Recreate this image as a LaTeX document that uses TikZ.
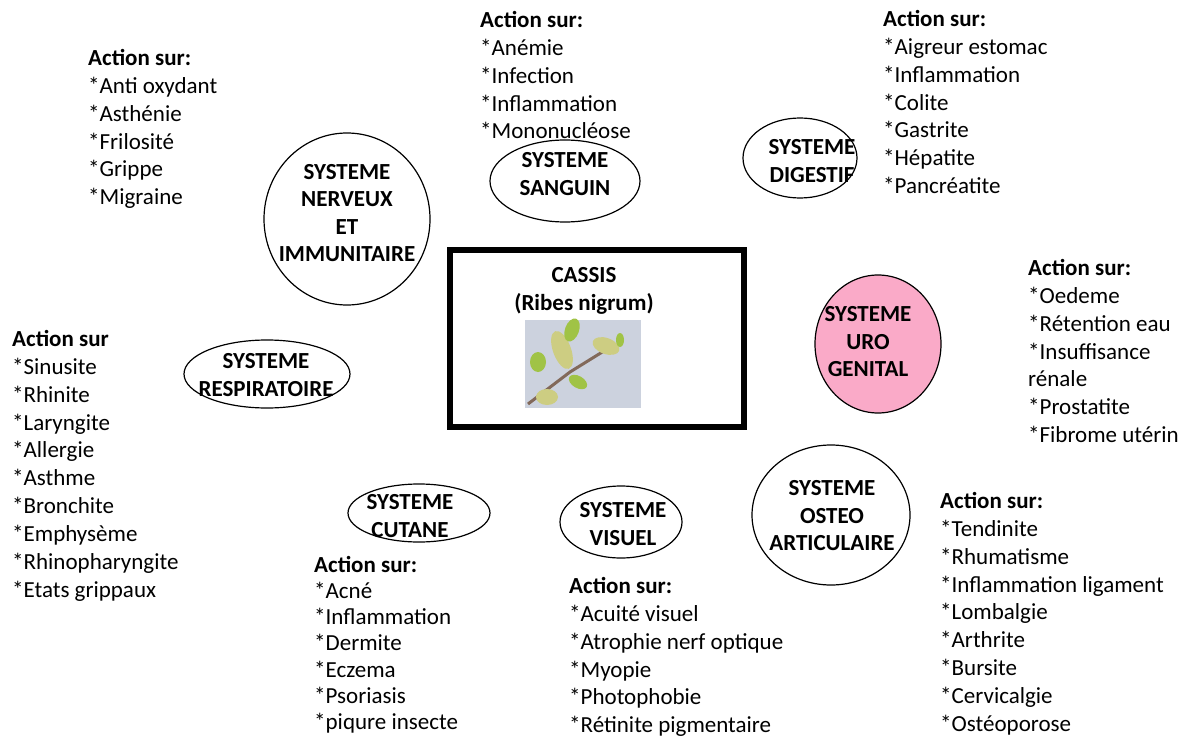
\documentclass[tikz,border=0pt]{standalone}
\usepackage{fontspec}
\setmainfont{Carlito}
\usetikzlibrary{shapes.geometric}
\definecolor{rose}{RGB}{250,170,200}
\definecolor{ciel}{RGB}{204,210,222}
\definecolor{bois}{RGB}{130,105,90}
\definecolor{bourgeon}{RGB}{205,205,130}
\definecolor{feuille}{RGB}{160,195,70}
\tikzset{systeme/.style={font=\bfseries\fontsize{23}{27.5}\selectfont,align=center,inner sep=0pt},
actions/.style={anchor=north west,align=left,font=\fontsize{23}{27.9}\selectfont,inner sep=0pt},
bulle/.style={line width=1.2pt}}

\begin{document}
\begin{tikzpicture}[x=1pt,y=-1pt]
\useasboundingbox (0,0) rectangle (1185,738);
\draw[line width=6pt] (450,250) rectangle (744,427);
\node[font=\bfseries\fontsize{23}{27.8}\selectfont,align=center,inner sep=0pt] (cassis) at (584,291) {CASSIS\\(Ribes nigrum)};
\fill[ciel] (525,320) rectangle (641,408);
\draw[bois,line width=3pt] (528,404) -- (570,372) -- (612,346);
\fill[bourgeon] (606,346) ellipse [x radius=14pt,y radius=8pt,rotate=-20];
\fill[feuille] (620,340) ellipse [x radius=4pt,y radius=7pt];
\fill[bourgeon] (562,350) ellipse [x radius=9pt,y radius=20pt,rotate=20];
\fill[feuille] (572,330) ellipse [x radius=7pt,y radius=12pt,rotate=-20];
\fill[bourgeon] (547,397) ellipse [x radius=11pt,y radius=8pt];
\fill[feuille] (578,382) ellipse [x radius=10pt,y radius=6pt,rotate=-30];
\fill[feuille] (538,362) ellipse [x radius=8pt,y radius=10pt];

\node[systeme] (nerveux) at (347,213) {SYSTEME\\NERVEUX\\ET\\IMMUNITAIRE};
\draw[bulle] (347,219) ellipse [x radius=83pt,y radius=86pt];
\node[systeme] (sanguin) at (565,174) {SYSTEME\\SANGUIN};
\draw[bulle] (565,181) ellipse [x radius=75pt,y radius=41pt];
\node[systeme] (digestif) at (812,161) {SYSTEME\\DIGESTIF};
\draw[bulle] (800,158) ellipse [x radius=57pt,y radius=40pt];
\draw[bulle,fill=rose] (878,344) ellipse [x radius=63pt,y radius=69pt];
\node[systeme] (uro) at (868,342) {SYSTEME\\URO\\GENITAL};
\node[systeme] (respiratoire) at (266,375) {SYSTEME\\RESPIRATOIRE};
\draw[bulle] (267,374) ellipse [x radius=83pt,y radius=34pt];
\node[systeme] (cutane) at (410,516) {SYSTEME\\CUTANE};
\draw[bulle] (419,513) ellipse [x radius=71pt,y radius=29pt];
\node[systeme] (visuel) at (623,524) {SYSTEME\\VISUEL};
\draw[bulle] (621,522) ellipse [x radius=61pt,y radius=36pt];
\node[systeme] (osteo) at (832,516) {SYSTEME\\OSTEO\\ARTICULAIRE};
\draw[bulle] (831,515) ellipse [x radius=79pt,y radius=70pt];

\node[actions] (nerveuxact) at (88,49) {\textbf{Action sur:}\\*Anti oxydant\\*Asthénie\\*Frilosité\\*Grippe\\*Migraine};
\node[actions] (sanguinact) at (480,11) {\textbf{Action sur:}\\*Anémie\\*Infection\\*Inflammation\\*Mononucléose};
\node[actions] (digestifact) at (883,10) {\textbf{Action sur:}\\*Aigreur estomac\\*Inflammation\\*Colite\\*Gastrite\\*Hépatite\\*Pancréatite};
\node[actions] (uroact) at (1028,259) {\textbf{Action sur:}\\*Oedeme\\*Rétention eau\\*Insuffisance\\rénale\\*Prostatite\\*Fibrome utérin};
\node[actions] (respiratoireact) at (12,330) {\textbf{Action sur}\\*Sinusite\\*Rhinite\\*Laryngite\\*Allergie\\*Asthme\\*Bronchite\\*Emphysème\\*Rhinopharyngite\\*Etats grippaux};
\node[actions,font=\fontsize{23}{26.2}\selectfont] (cutaneact) at (314,556) {\textbf{Action sur:}\\*Acné\\*Inflammation\\*Dermite\\*Eczema\\*Psoriasis\\*piqure insecte};
\node[actions] (visuelact) at (569,577) {\textbf{Action sur:}\\*Acuité visuel\\*Atrophie nerf optique\\*Myopie\\*Photophobie\\*Rétinite pigmentaire};
\node[actions] (osteoact) at (940,492) {\textbf{Action sur:}\\*Tendinite\\*Rhumatisme\\*Inflammation ligament\\*Lombalgie\\*Arthrite\\*Bursite\\*Cervicalgie\\*Ostéoporose};
\end{tikzpicture}
\end{document}
